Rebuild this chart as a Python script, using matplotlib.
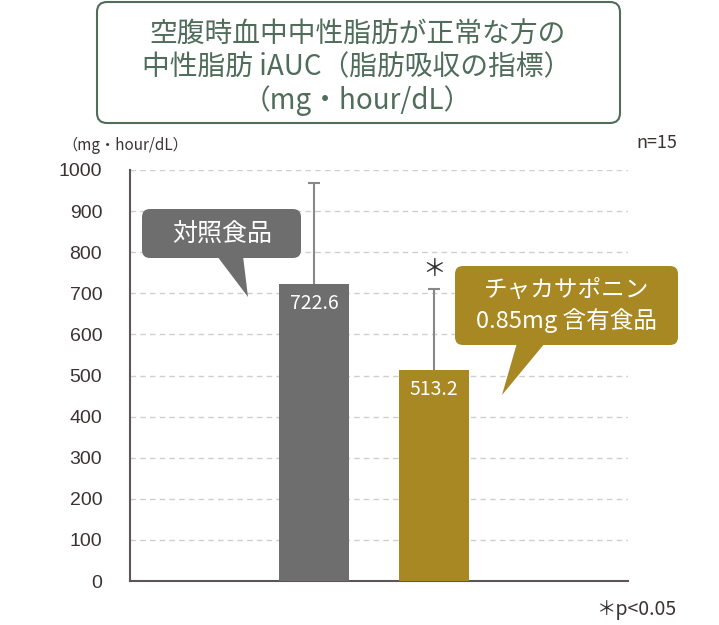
import matplotlib
matplotlib.use("Agg")
import matplotlib.pyplot as plt
from matplotlib.patches import FancyBboxPatch, Polygon

plt.rcParams['font.family'] = ['Noto Sans CJK JP', 'DejaVu Sans']

# data
groups = ["対照食品", "チャカサポニン\n0.85mg 含有食品"]
means = [722.6, 513.2]
upper_err = [245, 197]
bar_colors = ["#6e6e6e", "#a88822"]
yticks = list(range(0, 1001, 100))

title_lines = "空腹時血中中性脂肪が正常な方の\n中性脂肪 iAUC（脂肪吸収の指標）\n（mg・hour/dL）"
green = "#4f6d5a"
txt = "#3b3333"

fig = plt.figure(figsize=(7.19, 6.25), dpi=100)
ax = fig.add_axes([130 / 719, 44 / 625, 498 / 719, 411 / 625])

x = [0, 1]
ax.bar(x, means, width=0.583, color=bar_colors, zorder=3)
_, caps, _ = ax.errorbar(x, means, yerr=[[0, 0], upper_err], fmt="none", ecolor="#888888",
                         elinewidth=1.5, capsize=4.5, capthick=1.5, zorder=2)
# only the upper cap is shown
for c in caps:
    if list(c.get_ydata()) == means:
        c.set_visible(False)

for xi, m in zip(x, means):
    ax.text(xi, m - 22, f"{m:.1f}", ha="center", va="top", color="white",
            fontsize=14, zorder=4)

# significance mark
ax.text(1, means[1] + upper_err[1] + 20, "＊", ha="center", va="bottom",
        fontsize=17, color="#333333")

ax.set_xlim(-1.533, 2.617)
ax.set_ylim(0, 1000)
ax.set_yticks(yticks)
ax.set_xticks([])
ax.tick_params(axis="y", length=0, pad=20, labelsize=14, labelcolor=txt)
for t in ax.get_yticklabels():
    t.set_family(['Liberation Sans', 'DejaVu Sans'])
ax.yaxis.grid(True, linestyle=(0, (4, 3)), color="#cfcfcf", linewidth=1, zorder=0)
ax.set_axisbelow(True)
for s in ["top", "right"]:
    ax.spines[s].set_visible(False)
for s in ["left", "bottom"]:
    ax.spines[s].set_color("#5e5656")
    ax.spines[s].set_linewidth(1.5)

# overlay in pixel units for title box and callouts
ov = fig.add_axes([0, 0, 1, 1], zorder=5)
ov.set_xlim(0, 719)
ov.set_ylim(625, 0)
ov.axis("off")

ov.add_patch(FancyBboxPatch((97, 2), 523, 121, boxstyle="round,pad=0,rounding_size=10",
                            facecolor="white", edgecolor=green, linewidth=1.5))
ov.text(357, 68, title_lines, ha="center", va="center", color=green, fontsize=20,
        linespacing=1.1)

ov.text(62, 145, "（mg・hour/dL）", ha="left", va="center", color=txt, fontsize=11)
ov.text(677, 143, "n=15", ha="right", va="center", color=txt, fontsize=13)
ov.text(677, 610, "＊p<0.05", ha="right", va="center", color=txt, fontsize=14)

# callout: control
ov.add_patch(FancyBboxPatch((142, 209), 159, 49, boxstyle="round,pad=0,rounding_size=8",
                            facecolor=bar_colors[0], edgecolor="none"))
ov.add_patch(Polygon([(217, 256), (243, 256), (248, 297)], closed=True,
                     facecolor=bar_colors[0], edgecolor="none"))
ov.text(222, 234, groups[0], ha="center", va="center", color="white", fontsize=18)

# callout: test food
ov.add_patch(FancyBboxPatch((455, 266), 223, 79, boxstyle="round,pad=0,rounding_size=8",
                            facecolor=bar_colors[1], edgecolor="none"))
ov.add_patch(Polygon([(517, 343), (545, 343), (502, 395)], closed=True,
                     facecolor=bar_colors[1], edgecolor="none"))
ov.text(567, 306, groups[1], ha="center", va="center", color="white", fontsize=17,
        linespacing=1.3)

fig.savefig("out.png", dpi=100)
